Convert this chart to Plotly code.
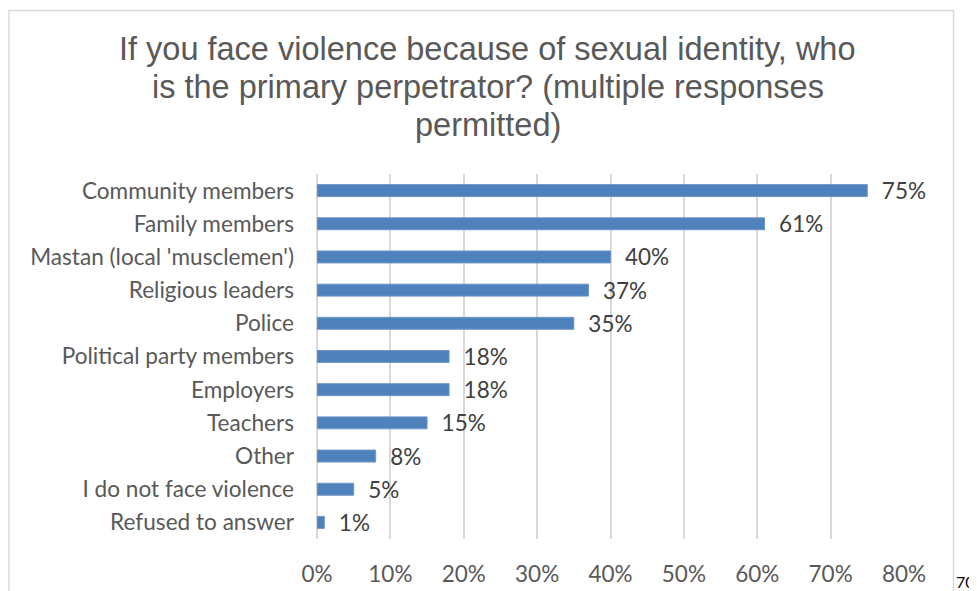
import plotly.graph_objects as go

categories = ["Community members", "Family members", "Mastan (local 'musclemen')",
              "Religious leaders", "Police", "Political party members", "Employers",
              "Teachers", "Other", "I do not face violence", "Refused to answer"]
values = [0.75, 0.61, 0.40, 0.37, 0.35, 0.18, 0.18, 0.15, 0.08, 0.05, 0.01]
tick_vals = [0, 0.1, 0.2, 0.3, 0.4, 0.5, 0.6, 0.7, 0.8]
tick_text = ["0%", "10%", "20%", "30%", "40%", "50%", "60%", "70%", "80%"]
title_lines = ["If you face violence because of sexual identity, who",
               "is the primary perpetrator? (multiple responses",
               "permitted)"]

# page has an 8px body margin; work in window pixels and shift by it
OFF = 8
W, H = 977 - OFF, 591 - OFF
L, R, T, B = 317 - OFF, 904 - OFF, 174 - OFF, 539 - OFF
FONT = "Lato"

def px(x):
    return (x - OFF - L) / (R - L)

def py(y):
    return (B - (y - OFF)) / (B - T)

fig = go.Figure(go.Bar(
    y=categories, x=values, orientation="h",
    marker=dict(color="#4F81BD", line=dict(color="#6E96C8", width=1)),
    width=0.36,
    text=["  " + f"{round(v*100)}%" for v in values],
    textposition="outside", cliponaxis=False, constraintext="none",
    textfont=dict(family=FONT, size=22.5, color="#404040"),
    hoverinfo="skip",
))

title_y = [49, 87, 125]
annotations = [dict(text=t, xref="paper", yref="paper", x=px(487.5), y=py(yy),
                    xanchor="center", yanchor="middle", showarrow=False,
                    font=dict(family="Liberation Sans", size=32.5, color="#595959"))
               for t, yy in zip(title_lines, title_y)]
annotations.append(dict(text="70", xref="paper", yref="paper", x=px(954), y=py(581),
                        xanchor="left", yanchor="middle", showarrow=False,
                        font=dict(family=FONT, size=16, color="#000000")))

fig.update_layout(
    width=W, height=H,
    margin=dict(l=L, r=W - R, t=T, b=H - B, pad=0),
    paper_bgcolor="white", plot_bgcolor="white",
    showlegend=False,
    xaxis=dict(range=[0, 0.8], tickvals=tick_vals, ticktext=tick_text,
               showgrid=True, gridcolor="#D9D9D9", gridwidth=1.5,
               zeroline=True, zerolinecolor="#D9D9D9", zerolinewidth=1.5,
               showline=False, ticks="", ticklabelstandoff=19, automargin=False,
               tickfont=dict(family=FONT, size=22.5, color="#595959")),
    yaxis=dict(categoryorder="array", categoryarray=categories, autorange="reversed",
               showgrid=False, zeroline=False, showline=False, ticks="",
               ticklabelstandoff=22, automargin=False,
               tickfont=dict(family=FONT, size=22.6, color="#595959")),
    shapes=[dict(type="rect", xref="paper", yref="paper",
                 x0=px(9), x1=px(953.5), y0=py(620), y1=py(10.5),
                 line=dict(color="#D9D9D9", width=1.5), fillcolor="rgba(0,0,0,0)",
                 layer="below")],
    annotations=annotations,
)

fig.write_html("out.html")
